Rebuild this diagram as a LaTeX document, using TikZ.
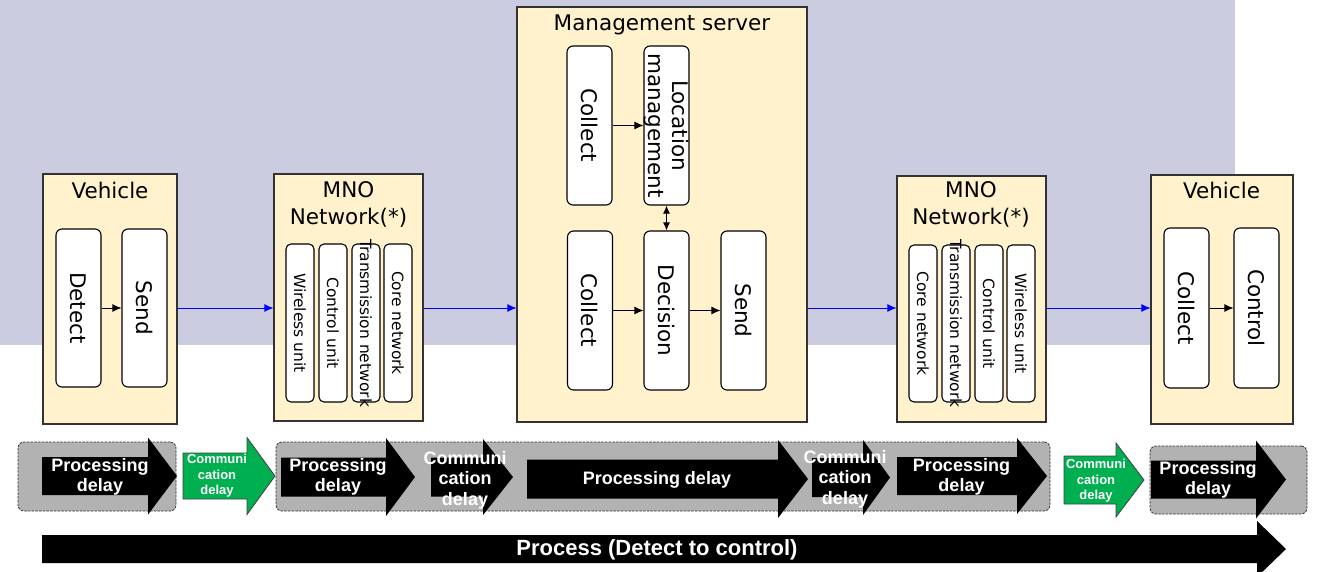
\documentclass[tikz,border=0pt]{standalone}
\usepackage{fontspec}
\setmainfont{DejaVu Sans}
\newfontfamily\delayfont{Liberation Sans}
\usepackage{tikz}
\usetikzlibrary{arrows.meta}
\definecolor{bgpurple}{RGB}{204,204,225}
\definecolor{boxbeige}{RGB}{255,242,204}
\definecolor{commgreen}{RGB}{0,176,80}
\definecolor{delaygray}{RGB}{178,178,178}
\tikzstyle{block} = [rectangle, draw=black!80, line width=1.1pt, fill=boxbeige, inner sep=0pt]
\tikzstyle{title} = [font=\fontsize{21.5}{27}\selectfont, align=center, inner sep=0pt]
\tikzstyle{unit} = [rectangle, rounded corners=6pt, draw=black, line width=1.1pt, fill=white, rotate=-90, inner sep=0pt, minimum height=45pt, font=\fontsize{21.5}{24}\selectfont, align=center]
\tikzstyle{nwunit} = [unit, minimum height=28pt, rounded corners=5pt, font=\fontsize{15.5}{18}\selectfont]
\tikzstyle{arrow} = [line width=1pt, -{Latex[length=9pt,width=8pt]}]
\tikzstyle{flow} = [arrow, blue]
\tikzstyle{delaybg} = [rectangle, rounded corners=6pt, draw=black!80, dash pattern=on 2.5pt off 1.2pt, line width=0.8pt, fill=delaygray, inner sep=0pt]
\tikzstyle{bigdelay} = [text=white, font=\delayfont\bfseries\fontsize{18}{20.5}\selectfont, align=center, inner sep=0pt]
\tikzstyle{smalldelay} = [bigdelay, font=\delayfont\bfseries\fontsize{13}{15.5}\selectfont]
\newcommand{\blockarr}[7]{\path[#1] (#2,{#5-#6}) -- (#3,{#5-#6}) -- (#3,{#5-#7}) -- (#4,#5) -- (#3,{#5+#7}) -- (#3,{#5+#6}) -- (#2,{#5+#6}) -- cycle;}

\begin{document}
\begin{tikzpicture}[x=1pt, y=-1pt]
    \useasboundingbox (0,0) rectangle (1319,571);
    \fill[bgpurple] (0,0) rectangle (1235,345);

    \node (veh1) [block, minimum width=134pt, minimum height=250pt] at (110,299) {};
    \node (veh1t) [title] at (110,190) {Vehicle};
    \node (det) [unit, minimum width=158pt] at (78.5,308) {Detect};
    \node (snd1) [unit, minimum width=158pt] at (144.5,308) {Send};

    \node (mno1) [block, minimum width=149pt, minimum height=247pt] at (348.5,297.5) {};
    \node (mno1t) [title] at (348.5,204.5) {MNO\\Network(*)};
    \node (wl1) [nwunit, minimum width=158pt] at (300,323) {Wireless unit};
    \node (cu1) [nwunit, minimum width=158pt] at (333,323) {Control unit};
    \node (tn1) [nwunit, minimum width=158pt] at (366,323) {\makebox[0pt]{Transmission network}};
    \node (cn1) [nwunit, minimum width=158pt] at (398,323) {Core network};

    \node (srv) [block, minimum width=290pt, minimum height=415pt] at (662,214.5) {};
    \node (srvt) [title] at (662,25) {Management server};
    \node (col1) [unit, minimum width=159pt] at (589.5,125.5) {Collect};
    \node (loc) [unit, minimum width=159pt] at (666.5,125.5) {Location\\management};
    \node (col2) [unit, minimum width=159pt] at (590,310.5) {Collect};
    \node (dec) [unit, minimum width=159pt] at (666.5,310.5) {Decision};
    \node (snd2) [unit, minimum width=159pt] at (743.5,310.5) {Send};

    \node (mno2) [block, minimum width=149pt, minimum height=246pt] at (971.5,299) {};
    \node (mno2t) [title] at (971,204.5) {MNO\\Network(*)};
    \node (cn2) [nwunit, minimum width=157pt] at (923,323.5) {Core network};
    \node (tn2) [nwunit, minimum width=157pt] at (956,323.5) {\makebox[0pt]{Transmission network}};
    \node (cu2) [nwunit, minimum width=157pt] at (989,323.5) {Control unit};
    \node (wl2) [nwunit, minimum width=157pt] at (1021,323.5) {Wireless unit};

    \node (veh2) [block, minimum width=142pt, minimum height=249pt] at (1222,299.5) {};
    \node (veh2t) [title] at (1221.5,190) {Vehicle};
    \node (col3) [unit, minimum width=160pt] at (1186.5,308) {Collect};
    \node (ctl) [unit, minimum width=160pt] at (1256.5,308) {Control};

    \draw [arrow] (det) -- (snd1);
    \draw [arrow] (col1) -- (loc);
    \draw [{Latex[length=8pt,width=7pt]}-{Latex[length=8pt,width=7pt]}, line width=1pt] (loc) -- (dec);
    \draw [arrow] (col2) -- (dec);
    \draw [arrow] (dec) -- (snd2);
    \draw [arrow] (col3) -- (ctl);
    \draw [flow] (veh1.east |- det.center) -- (mno1.west |- det.center);
    \draw [flow] (mno1.east |- det.center) -- (srv.west |- det.center);
    \draw [flow] (srv.east |- col3.center) -- (mno2.west |- col3.center);
    \draw [flow] (mno2.east |- col3.center) -- (veh2.west |- col3.center);

    \node (gb1) [delaybg, minimum width=158pt, minimum height=69pt] at (97,476.5) {};
    \node (gb2) [delaybg, minimum width=774pt, minimum height=69pt] at (663,476.5) {};
    \node (gb3) [delaybg, minimum width=157pt, minimum height=68pt] at (1228.5,480) {};

    \blockarr{fill=black}{42}{148}{177}{476}{19}{38.5}
    \blockarr{fill=commgreen, draw=black!75, line width=0.8pt}{183}{247}{275}{476}{23}{38.5}
    \blockarr{fill=black}{281}{386}{415}{477}{19.5}{39}
    \blockarr{fill=black}{431}{483}{513}{477}{19.5}{38}
    \blockarr{fill=black}{527}{778}{808}{479}{19.5}{39}
    \blockarr{fill=black}{812}{863}{890}{477.5}{19.5}{37.5}
    \blockarr{fill=black}{897}{1017}{1047}{476}{19}{38}
    \blockarr{fill=commgreen, draw=black!75, line width=0.8pt}{1064}{1116}{1144}{480}{24}{37}
    \blockarr{fill=black}{1151}{1256}{1286}{479.5}{19}{39}
    \blockarr{fill=black}{42}{1257}{1286}{549}{14}{28}

    \node (pd1) [bigdelay] at (100,477) {Processing\\delay};
    \node (cd1) [smalldelay] at (217,476) {Communi\\cation\\delay};
    \node (pd2) [bigdelay] at (338,477) {Processing\\delay};
    \node (cd2) [bigdelay] at (465,480) {Communi\\cation\\delay};
    \node (pd3) [bigdelay] at (657,480) {Processing delay};
    \node (cd3) [bigdelay] at (845,479) {Communi\\cation\\delay};
    \node (pd4) [bigdelay] at (961.5,477) {Processing\\delay};
    \node (cd4) [smalldelay] at (1096,481) {Communi\\cation\\delay};
    \node (pd5) [bigdelay] at (1208,480) {Processing\\delay};
    \node (proc) [bigdelay, font=\delayfont\bfseries\fontsize{22}{24}\selectfont] at (657,550) {Process (Detect to control)};
\end{tikzpicture}
\end{document}
